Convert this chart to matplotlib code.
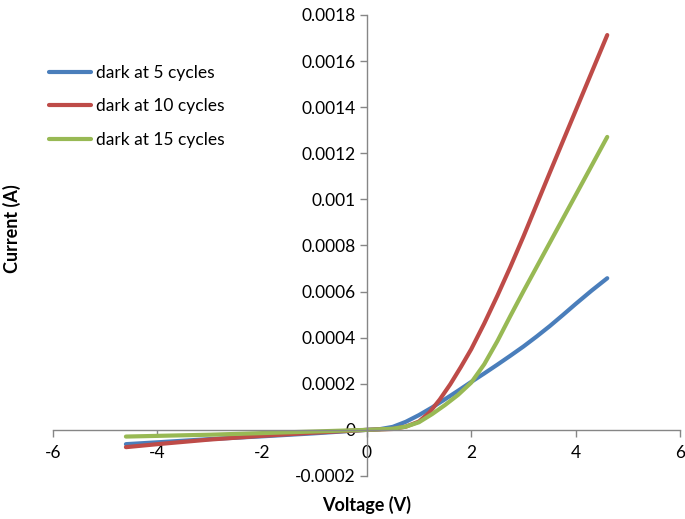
import numpy as np
import matplotlib
matplotlib.use("Agg")
import matplotlib.pyplot as plt

plt.rcParams['font.family'] = ['Lato', 'DejaVu Sans']

# voltage points (V) and currents (A)
v_blue = [-4.6, -4, -3, -2, -1, 0, 0.25, 0.5, 0.75, 1, 1.25, 1.5, 1.75, 2, 2.25, 2.5,
          2.75, 3, 3.25, 3.5, 3.75, 4, 4.3, 4.6]
i_blue = [-0.000062, -0.000054, -0.00004, -0.000028, -0.000015, 0, 0.000003, 0.000013,
          0.000035, 0.000064, 0.000097, 0.000133, 0.00017, 0.000208, 0.000245, 0.000283,
          0.000322, 0.000362, 0.000405, 0.00045, 0.000498, 0.000547, 0.000604, 0.000658]

v_red = [-4.6, -4, -3, -2, -1, 0, 0.5, 0.75, 1, 1.2, 1.4, 1.6, 1.8, 2, 2.25, 2.5, 2.75,
         3, 3.5, 4, 4.6]
i_red = [-0.000075, -0.000062, -0.000042, -0.000026, -0.000012, 0, 0.000004, 0.000014,
         0.000036, 0.000075, 0.000132, 0.000198, 0.000272, 0.00035, 0.000462, 0.000582,
         0.000708, 0.00084, 0.001115, 0.001387, 0.001713]

v_green = [-4.6, -3, -2, -1, 0, 0.5, 0.75, 1, 1.25, 1.5, 1.75, 2, 2.25, 2.5, 2.75, 3,
           3.5, 4, 4.6]
i_green = [-0.000029, -0.000021, -0.000014, -0.000007, 0, 0.000005, 0.000014, 0.000033,
           0.000068, 0.000108, 0.000152, 0.000205, 0.000285, 0.000385, 0.000495, 0.000602,
           0.000811, 0.00102, 0.001271]

labels = ['dark at 5 cycles', 'dark at 10 cycles', 'dark at 15 cycles']
colors = ['#4A7EBB', '#BE4B48', '#98B954']

x_ticks = [-6, -4, -2, 0, 2, 4, 6]
y_ticks = [-0.0002, 0, 0.0002, 0.0004, 0.0006, 0.0008, 0.001, 0.0012, 0.0014, 0.0016, 0.0018]
y_ticklabels = ['-0.0002', '0', '0.0002', '0.0004', '0.0006', '0.0008', '0.001',
                '0.0012', '0.0014', '0.0016', '0.0018']

fig = plt.figure(figsize=(6.85, 5.19), dpi=100)
ax = fig.add_axes([0.0769, 0.0829, 0.9165, 0.8882])

series = [(v_blue, i_blue), (v_red, i_red), (v_green, i_green)]
for (v, i), lab, c in zip(series, labels, colors):
    ax.plot(v, i, color=c, lw=3, label=lab, solid_capstyle='round', solid_joinstyle='round')

ax.set_xlim(-6, 6)
ax.set_ylim(-0.0002, 0.0018)
ax.set_xticks(x_ticks)
ax.set_xticklabels([str(t) for t in x_ticks])
ax.set_yticks(y_ticks)
ax.set_yticklabels(y_ticklabels)

# axes crossing at the origin, Excel style
ax.spines['left'].set_position(('data', 0))
ax.spines['bottom'].set_position(('data', 0))
ax.spines['right'].set_visible(False)
ax.spines['top'].set_visible(False)
for s in ['left', 'bottom']:
    ax.spines[s].set_color('#868686')
    ax.spines[s].set_linewidth(1.0)
ax.tick_params(axis='both', direction='out', length=5, width=1, color='#868686',
               labelsize=12.5, labelcolor='black')
ax.tick_params(axis='y', pad=3)
ax.tick_params(axis='x', pad=6)

fig.text(0.535, 0.027, 'Voltage (V)', fontsize=13, fontweight='bold', ha='center', va='center')
fig.text(0.018, 0.56, 'Current (A)', fontsize=13, fontweight='bold', ha='center', va='center',
         rotation=90)

ax.legend(loc='upper left', bbox_to_anchor=(0.062, 0.888), bbox_transform=fig.transFigure,
          frameon=False, fontsize=12.5, handlelength=2.4, handletextpad=0.3,
          labelspacing=1.0, borderaxespad=0)

fig.savefig('out.png', dpi=100)
